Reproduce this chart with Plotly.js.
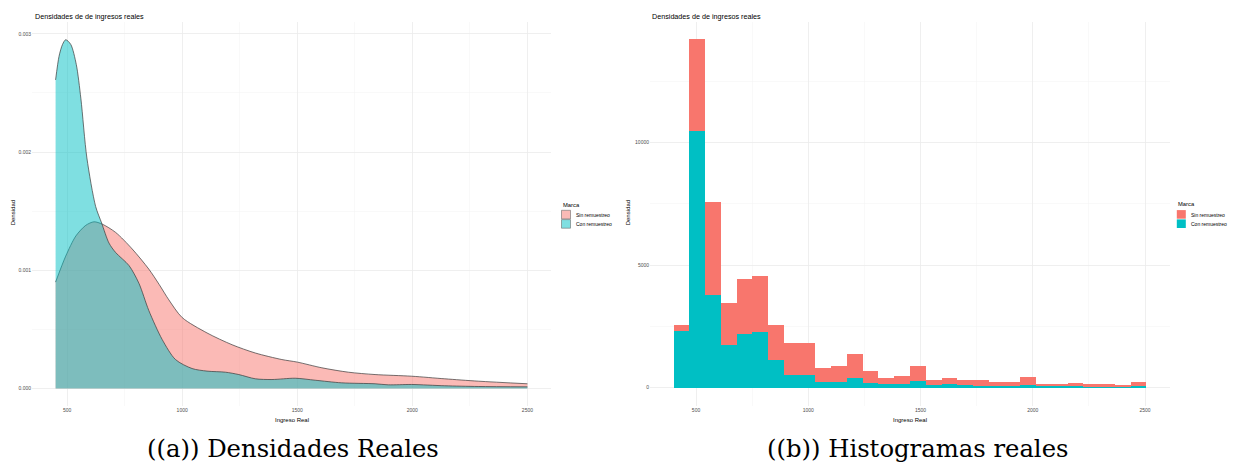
<!DOCTYPE html>
<html>
<head>
<meta charset="utf-8">
<script src="https://cdn.plot.ly/plotly-3.0.1.min.js"></script>
<style>
  html, body { margin: 0; padding: 0; background: #ffffff; }
  #chart { width: 1235px; height: 463px; }
</style>
</head>
<body>
<div id="chart"></div>
<script>
// ---------------- DATA ----------------
var seriesNames = ["Sin remuestreo", "Con remuestreo"];

// Density curves (Ingreso Real vs Densidad)
var densSinX = [450, 494, 538, 581, 617, 653, 711, 783, 855, 900, 942, 1000, 1108, 1217, 1318, 1433, 1501, 1607, 1722, 1838, 1997, 2141, 2286, 2500];
var densSinY = [0.00090, 0.00112, 0.00129, 0.00138, 0.00141, 0.00139, 0.00132, 0.00118, 0.00101, 0.00088, 0.00075, 0.00060, 0.00047, 0.00037, 0.00030, 0.000245, 0.000223, 0.000175, 0.000138, 0.000118, 0.000104, 0.000082, 0.000062, 0.000040];

var densConX = [450, 465, 480, 494, 516, 540, 560, 586, 624, 650, 682, 711, 769, 812, 855, 913, 971, 1043, 1108, 1188, 1246, 1318, 1390, 1491, 1578, 1693, 1838, 1896, 1997, 2141, 2286, 2500];
var densConY = [0.00261, 0.00281, 0.00291, 0.00295, 0.00291, 0.00274, 0.00245, 0.00195, 0.00154, 0.00140, 0.00123, 0.00115, 0.00104, 0.00089, 0.00066, 0.000415, 0.000245, 0.000169, 0.000147, 0.000138, 0.000118, 0.000082, 0.000076, 0.000087, 0.000070, 0.000048, 0.000040, 0.000031, 0.000034, 0.000023, 0.000017, 0.000014];

// Histogram (30 bins), bin centers and stacked counts
var binWidth = 70.2;
var binCenters = [435.1, 505.3, 575.5, 645.7, 715.9, 786.1, 856.3, 926.5, 996.7, 1066.9, 1137.1, 1207.3, 1277.5, 1347.7, 1417.9, 1488.1, 1558.3, 1628.5, 1698.7, 1768.9, 1839.1, 1909.3, 1979.5, 2049.7, 2119.9, 2190.1, 2260.3, 2330.5, 2400.7, 2470.9];
var histCon = [2320, 10460, 3790, 1730, 2210, 2275, 1120, 515, 515, 243, 243, 406, 175, 135, 135, 257, 108, 135, 122, 81, 54, 68, 122, 68, 54, 54, 41, 41, 41, 54];
var histSin = [225, 3740, 3770, 1725, 2205, 2262, 1453, 1313, 1313, 570, 637, 949, 515, 271, 325, 609, 204, 271, 203, 244, 163, 176, 325, 95, 109, 149, 94, 108, 81, 176];

var panelTitles = ["Densidades de de ingresos reales", "Densidades de de ingresos reales"];
var xTitle = "Ingreso Real";
var yTitle = "Densidad";
var legendTitle = "Marca";
var captions = ["((a)) Densidades Reales", "((b)) Histogramas reales"];

// ---------------- STYLE ----------------
var W = 1235, H = 463;
function px(x) { return x / W; }
function py(y) { return 1 - y / H; }

var RED = "#F8766D", TEAL = "#00BFC4";
var RED_A = "rgba(248,118,109,0.5)", TEAL_A = "rgba(0,191,196,0.5)";
var SANS = "Liberation Sans, Arial, sans-serif";
var SERIF = "DejaVu Serif, serif";
var GRID = "#EBEBEB", GRID_MINOR = "#F3F3F3";
var TICKC = "#4D4D4D";

var traces = [
  {
    type: "scatter", mode: "lines", x: densSinX, y: densSinY,
    name: seriesNames[0], fill: "tozeroy", fillcolor: RED_A,
    line: { color: "#3a3a3a", width: 0.7, shape: "spline", smoothing: 0.8 },
    xaxis: "x", yaxis: "y", showlegend: false, hoverinfo: "x+y+name"
  },
  {
    type: "scatter", mode: "lines", x: densConX, y: densConY,
    name: seriesNames[1], fill: "tozeroy", fillcolor: TEAL_A,
    line: { color: "#3a3a3a", width: 0.7, shape: "spline", smoothing: 0.8 },
    xaxis: "x", yaxis: "y", showlegend: false, hoverinfo: "x+y+name"
  },
  {
    type: "bar", x: binCenters, y: histCon, width: binWidth,
    name: seriesNames[1], marker: { color: TEAL, line: { width: 0 } },
    xaxis: "x2", yaxis: "y2", showlegend: false
  },
  {
    type: "bar", x: binCenters, y: histSin, width: binWidth,
    name: seriesNames[0], marker: { color: RED, line: { width: 0 } },
    xaxis: "x2", yaxis: "y2", showlegend: false
  }
];

function xAxisBase(dom, rng, anchor) {
  return {
    domain: dom, range: rng, anchor: anchor,
    tickmode: "linear", tick0: 0, dtick: 500, tickformat: "d",
    showgrid: true, gridcolor: GRID, gridwidth: 0.8,
    minor: { tick0: 0, dtick: 250, showgrid: true, gridcolor: GRID_MINOR, gridwidth: 0.5, ticks: "" },
    zeroline: false, showline: false, ticks: "",
    tickfont: { family: SANS, size: 5, color: TICKC },
    fixedrange: true
  };
}
function yAxisBase(dom, rng, anchor, dt, fmt) {
  return {
    domain: dom, range: rng, anchor: anchor,
    tickmode: "linear", tick0: 0, dtick: dt, tickformat: fmt,
    showgrid: true, gridcolor: GRID, gridwidth: 0.8,
    minor: { tick0: 0, dtick: dt / 2, showgrid: true, gridcolor: GRID_MINOR, gridwidth: 0.5, ticks: "" },
    zeroline: false, showline: false, ticks: "",
    tickfont: { family: SANS, size: 5, color: TICKC },
    fixedrange: true
  };
}

var yDom = [py(406), py(22)];
var layout = {
  width: W, height: H,
  margin: { l: 0, r: 0, t: 0, b: 0 },
  paper_bgcolor: "#ffffff", plot_bgcolor: "#ffffff",
  barmode: "stack", bargap: 0,
  showlegend: false,
  xaxis: xAxisBase([px(32), px(551)], [347.5, 2602.5], "y"),
  yaxis: yAxisBase(yDom, [-0.000148, 0.0031], "x", 0.001, ".3f"),
  xaxis2: xAxisBase([px(650), px(1170)], [295, 2611], "y2"),
  yaxis2: yAxisBase(yDom, [-745, 14910], "x2", 5000, "d"),
  annotations: [],
  shapes: []
};

function ann(text, x, y, opts) {
  var a = {
    text: text, xref: "paper", yref: "paper", x: px(x), y: py(y),
    xanchor: "center", yanchor: "middle", showarrow: false,
    font: { family: SANS, size: 6, color: "#000000" }
  };
  for (var k in opts) a[k] = opts[k];
  layout.annotations.push(a);
}

// panel titles
ann(panelTitles[0], 33, 16.5, { xanchor: "left", font: { family: SANS, size: 7.2, color: "#000" } });
ann(panelTitles[1], 650, 16.5, { xanchor: "left", font: { family: SANS, size: 7.2, color: "#000" } });
// axis titles
ann(xTitle, 291.5, 420, {});
ann(xTitle, 910, 420, {});
ann(yTitle, 13.3, 213, { textangle: -90 });
ann(yTitle, 628.3, 213, { textangle: -90 });
// captions
ann(captions[0], 293, 448.5, { font: { family: SERIF, size: 24.3, color: "#000" } });
ann(captions[1], 918, 448.5, { font: { family: SERIF, size: 24.3, color: "#000" } });

// legends
function legend(x0, yTop, fills, lineCol, textX) {
  ann(legendTitle, x0, yTop, { xanchor: "left", font: { family: SANS, size: 5.8, color: "#000" } });
  for (var i = 0; i < 2; i++) {
    var y0 = yTop + 5.8 + i * 9.3;
    layout.shapes.push({
      type: "rect", xref: "paper", yref: "paper",
      x0: px(x0 + 0.5), x1: px(x0 + 9.5), y0: py(y0 + 8.6), y1: py(y0),
      fillcolor: fills[i],
      line: lineCol ? { color: lineCol, width: 0.6 } : { width: 0 }
    });
    ann(seriesNames[i], textX, y0 + 4.4, { xanchor: "left", font: { family: SANS, size: 5, color: "#000" } });
  }
}
legend(561, 204.5, ["rgb(251,186,182)", "rgb(127,223,225)"], "#6b6b6b", 574);
legend(1176.3, 204.3, [RED, TEAL], null, 1188.7);

Plotly.newPlot("chart", traces, layout, { displayModeBar: false, staticPlot: true });
</script>
</body>
</html>
